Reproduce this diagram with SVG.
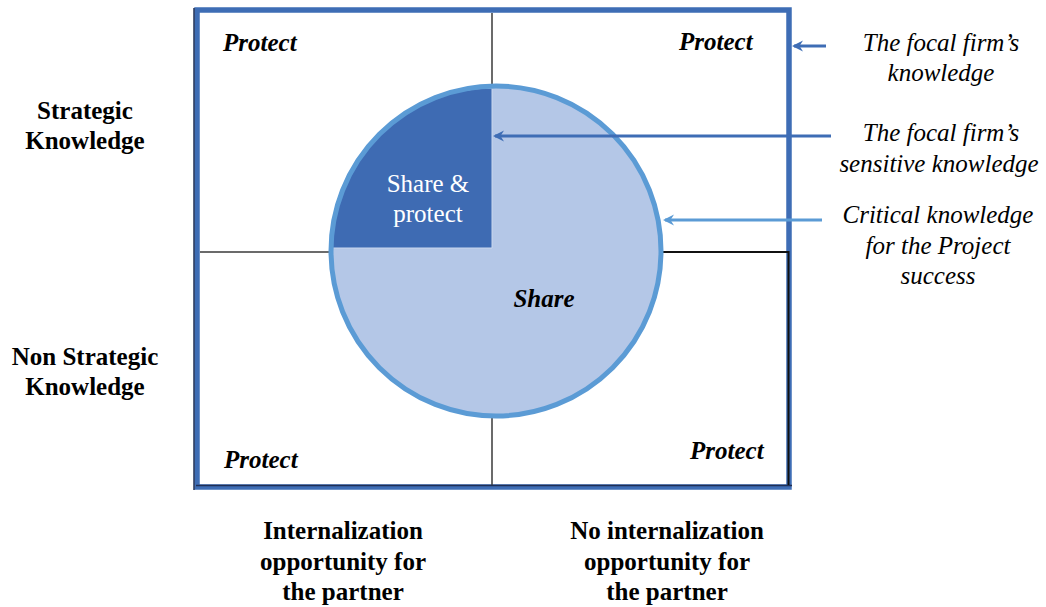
<svg xmlns="http://www.w3.org/2000/svg" width="1046" height="607" viewBox="0 0 1046 607">
<defs>
<style>
.t{font-family:"Liberation Serif","Times New Roman",serif;font-size:25px;fill:#000}
.b{font-weight:bold}
.i{font-style:italic}
.bi{font-weight:bold;font-style:italic}
.div{stroke:#3a3a3a;stroke-width:1.5;fill:none}
</style>
<marker id="ahD" markerWidth="12" markerHeight="12" refX="9" refY="6" orient="auto" markerUnits="userSpaceOnUse">
<path d="M11,6 L0,0.5 L3.5,6 L0,11.5 Z" fill="#3E6DB5"/>
</marker>
<marker id="ahL" markerWidth="12" markerHeight="12" refX="9" refY="6" orient="auto" markerUnits="userSpaceOnUse">
<path d="M11,6 L0,0.5 L3.5,6 L0,11.5 Z" fill="#5B9BD5"/>
</marker>
</defs>
<rect width="1046" height="607" fill="#fff"/>
<g id="matrix">
<rect x="197" y="10" width="592" height="477" fill="#fff" stroke="#3E6DB5" stroke-width="5.5"/>
<line x1="194" y1="8" x2="194" y2="490" stroke="#1f2f55" stroke-width="1.5"/>
<line x1="196" y1="485.5" x2="792" y2="485.5" stroke="#1f2f55" stroke-width="1.5"/>
<line class="div" x1="492" y1="13" x2="492" y2="485"/>
<line class="div" x1="200" y1="252" x2="660" y2="252"/>
<path d="M660,252 H788.5 V485" stroke="#111" stroke-width="2" fill="none"/>
</g>
<g id="circle">
<circle cx="496" cy="251" r="165" fill="#B4C7E7"/>
<path d="M492,248 V88 A160,160 0 0 0 332,248 Z" fill="#3E6BB3" stroke="#C9D8EE" stroke-width="1"/>
<circle cx="496" cy="251" r="165" fill="none" stroke="#5B9BD5" stroke-width="5"/>
</g>
<g id="quadrant-labels">
<text class="t bi" x="223" y="51">Protect</text>
<text class="t bi" x="679" y="50">Protect</text>
<text class="t bi" x="224" y="468">Protect</text>
<text class="t bi" x="690" y="459">Protect</text>
<text class="t bi" x="544" y="307" text-anchor="middle">Share</text>
<text class="t" x="428" y="192" text-anchor="middle" style="fill:#fff">Share &amp;</text>
<text class="t" x="428" y="222" text-anchor="middle" style="fill:#fff">protect</text>
</g>
<g id="row-labels">
<text class="t b" text-anchor="middle" x="85" y="119">Strategic</text>
<text class="t b" text-anchor="middle" x="85" y="149">Knowledge</text>
<text class="t b" text-anchor="middle" x="85" y="365">Non Strategic</text>
<text class="t b" text-anchor="middle" x="85" y="395">Knowledge</text>
</g>
<g id="col-labels">
<text class="t b" text-anchor="middle" x="343" y="539">Internalization</text>
<text class="t b" text-anchor="middle" x="343" y="570">opportunity for</text>
<text class="t b" text-anchor="middle" x="343" y="600">the partner</text>
<text class="t b" text-anchor="middle" x="667" y="539">No internalization</text>
<text class="t b" text-anchor="middle" x="667" y="570">opportunity for</text>
<text class="t b" text-anchor="middle" x="667" y="600">the partner</text>
</g>
<g id="legend-focal">
<text class="t i" text-anchor="middle" x="941" y="51">The focal firm’s</text>
<text class="t i" text-anchor="middle" x="941" y="81">knowledge</text>
</g>
<g id="legend-sensitive">
<text class="t i" text-anchor="middle" x="941" y="141">The focal firm’s</text>
<text class="t i" text-anchor="middle" x="939" y="172">sensitive knowledge</text>
</g>
<g id="legend-critical">
<text class="t i" text-anchor="middle" x="938" y="223">Critical knowledge</text>
<text class="t i" text-anchor="middle" x="938" y="254">for the Project</text>
<text class="t i" text-anchor="middle" x="938" y="284">success</text>
</g>
<g id="connectors">
<line x1="826" y1="46" x2="794" y2="46" stroke="#3E6DB5" stroke-width="3" marker-end="url(#ahD)"/>
<line x1="831" y1="136" x2="495" y2="136" stroke="#3E6DB5" stroke-width="3" marker-end="url(#ahD)"/>
<line x1="822" y1="220" x2="665" y2="220" stroke="#5B9BD5" stroke-width="3" marker-end="url(#ahL)"/>
</g>
</svg>
